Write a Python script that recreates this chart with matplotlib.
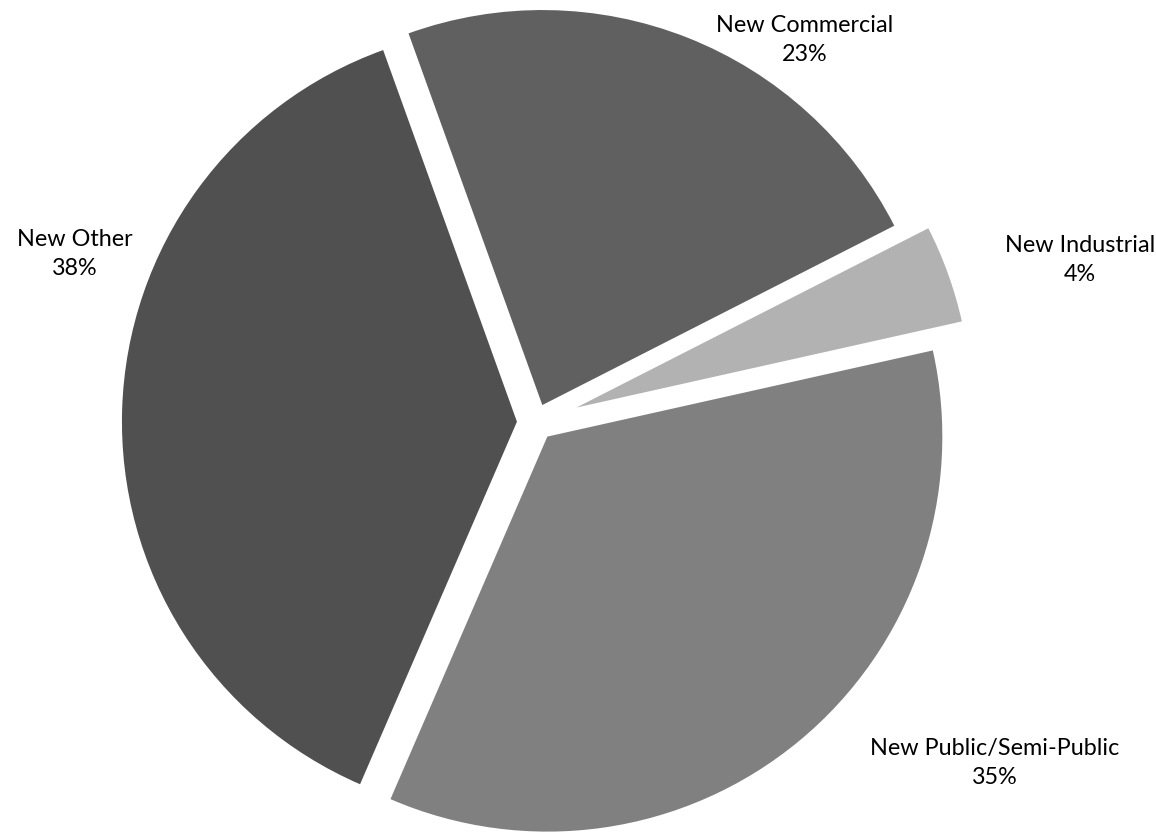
import matplotlib.pyplot as plt

# share of new development by land-use type (percent)
categories = ["New Commercial", "New Industrial", "New Public/Semi-Public", "New Other"]
shares = [23, 4, 35, 38]
colors = ["#606060", "#b2b2b2", "#808080", "#505050"]
explode = [0.047, 0.11, 0.047, 0.047]

# label anchor points, in units of the pie radius
label_xy = [(0.682, 0.968), (1.378, 0.411), (1.163, -0.863), (-1.166, 0.426)]

W, H = 1156, 834
R_PX = 395.0
CX, CY = 535.5, 422.3

fig = plt.figure(figsize=(W / 100, H / 100), dpi=100)
ax = fig.add_axes([0, 0, 1, 1])

ax.pie(
    shares,
    colors=colors,
    explode=explode,
    startangle=109.8,
    counterclock=False,
    radius=1.0,
    wedgeprops={"linewidth": 0},
)

for name, val, (x, y) in zip(categories, shares, label_xy):
    ax.text(
        x, y, f"{name}\n{val}%",
        ha="center", va="center",
        fontsize=16.8, family=["Lato", "DejaVu Sans"],
        linespacing=1.5, color="#000000",
    )

ax.set_xlim(-CX / R_PX, (W - CX) / R_PX)
ax.set_ylim(-(H - CY) / R_PX, CY / R_PX)
ax.set_aspect("auto")
ax.axis("off")

fig.savefig("out.png", dpi=100)
